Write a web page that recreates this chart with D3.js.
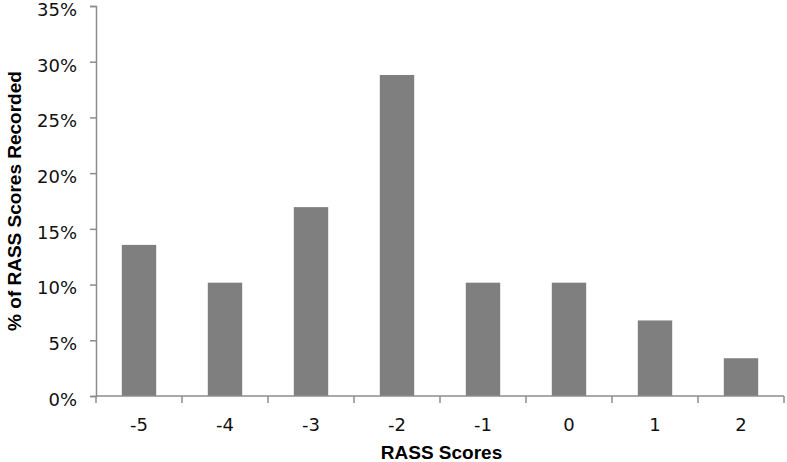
<!DOCTYPE html>
<html>
<head>
<meta charset="utf-8">
<script src="https://cdn.jsdelivr.net/npm/d3@7"></script>
<style>
  body { margin: 0; background: #fff; }
</style>
</head>
<body>
<div id="chart"></div>
<script>
// RASS score distribution
const scores = ["-5", "-4", "-3", "-2", "-1", "0", "1", "2"];
const pct = [13.56, 10.17, 16.95, 28.81, 10.17, 10.17, 6.78, 3.39];
const yTicks = [0, 5, 10, 15, 20, 25, 30, 35];

const width = 787;
const height = 462;
const margin = { top: 6, right: 2, bottom: 66, left: 96 };

const svg = d3.select("#chart").append("svg")
	.attr("width", width)
	.attr("height", height);

const x = d3.scaleBand()
	.domain(scores)
	.range([margin.left, width - margin.right - 1])
	.paddingInner(0.6)
	.paddingOuter(0.3);

const y = d3.scaleLinear()
	.domain([0, 35])
	.range([height - margin.bottom, margin.top]);

const axisColor = "#8c8c8c";

// bars
svg.append("g")
	.selectAll("rect")
	.data(scores)
	.join("rect")
	.attr("x", (d) => x(d))
	.attr("width", x.bandwidth())
	.attr("y", (d, i) => y(pct[i]))
	.attr("height", (d, i) => y(0) - y(pct[i]))
	.attr("fill", "#7f7f7f");

// y axis
const yAxis = svg.append("g")
	.attr("transform", `translate(${margin.left},0)`)
	.call(d3.axisLeft(y).tickValues(yTicks).tickSize(6).tickPadding(13).tickFormat((d) => d + "%"));
yAxis.select(".domain").attr("stroke", axisColor).attr("stroke-width", 1.5);
yAxis.selectAll(".tick line").attr("stroke", axisColor).attr("stroke-width", 1.5);
yAxis.selectAll("text")
	.attr("dy", "0.52em")
	.attr("font-family", "DejaVu Sans, sans-serif")
	.attr("font-size", 18)
	.attr("fill", "#111");

// x axis: ticks sit between categories
const xEdges = d3.range(scores.length + 1).map((i) => margin.left + i * (width - margin.right - 1 - margin.left) / scores.length);
const xg = svg.append("g");
xg.append("line")
	.attr("x1", margin.left).attr("x2", xEdges[xEdges.length - 1])
	.attr("y1", y(0)).attr("y2", y(0))
	.attr("stroke", axisColor).attr("stroke-width", 1.5);
xg.selectAll(".xt")
	.data(xEdges)
	.join("line")
	.attr("class", "xt")
	.attr("x1", (d) => d).attr("x2", (d) => d)
	.attr("y1", y(0)).attr("y2", y(0) + 7)
	.attr("stroke", axisColor).attr("stroke-width", 1.5);
xg.selectAll("text")
	.data(scores)
	.join("text")
	.attr("x", (d) => x(d) + x.bandwidth() / 2)
	.attr("y", y(0) + 35)
	.attr("text-anchor", "middle")
	.attr("font-family", "DejaVu Sans, sans-serif")
	.attr("font-size", 18)
	.attr("fill", "#111")
	.text((d) => d);

// axis titles
svg.append("text")
	.attr("x", (margin.left + width) / 2)
	.attr("y", 459)
	.attr("text-anchor", "middle")
	.attr("font-family", "Liberation Sans, Arial, sans-serif")
	.attr("font-weight", "bold")
	.attr("font-size", 19)
	.text("RASS Scores");

svg.append("text")
	.attr("transform", `translate(21,${y(17.5)}) rotate(-90)`)
	.attr("text-anchor", "middle")
	.attr("font-family", "Liberation Sans, Arial, sans-serif")
	.attr("font-weight", "bold")
	.attr("font-size", 19)
	.text("% of RASS Scores Recorded");
</script>
</body>
</html>
